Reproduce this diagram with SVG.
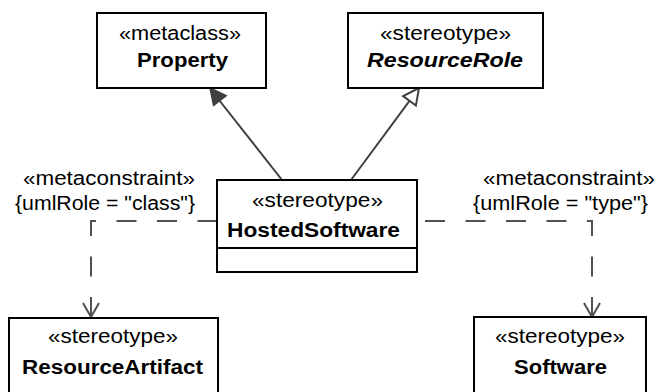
<svg xmlns="http://www.w3.org/2000/svg" width="656" height="392" viewBox="0 0 656 392">
<style>
.box{fill:#fff;stroke:#000;stroke-width:2}
.t{font-family:"Liberation Sans",Arial,sans-serif;font-size:20px;fill:#000}
.b{font-weight:bold}
.i{font-style:italic}
.gen{fill:none;stroke:#404040;stroke-width:2}
.dep{fill:none;stroke:#505050;stroke-width:2;stroke-dasharray:20 20.5}
.open{fill:none;stroke:#505050;stroke-width:2}
</style>
<rect width="656" height="392" fill="#fff"/>
<g id="connectors">
<line class="gen" x1="282" y1="180" x2="219" y2="100"/>
<polygon points="210,88 226.2,95.7 213.6,105.5" fill="#404040" stroke="#404040" stroke-width="1.5"/>
<line class="gen" x1="351" y1="180" x2="409.5" y2="100.9"/>
<polygon points="419,88 403.1,96.1 415.9,105.6" fill="#fff" stroke="#404040" stroke-width="2" stroke-linejoin="miter"/>
<path class="dep" d="M91,317 V221 H217"/>
<path class="open" d="M83,303 L91,317 L99,303"/>
<path class="dep" d="M592,317 V221 H417"/>
<path class="open" d="M584,303 L592,317 L600,303"/>
<text class="t" x="23" y="185" textLength="172" lengthAdjust="spacingAndGlyphs">«metaconstraint»</text>
<text class="t" x="15" y="210" textLength="180" lengthAdjust="spacingAndGlyphs">{umlRole = "class"}</text>
<text class="t" x="483" y="185" textLength="172" lengthAdjust="spacingAndGlyphs">«metaconstraint»</text>
<text class="t" x="473" y="210" textLength="175" lengthAdjust="spacingAndGlyphs">{umlRole = "type"}</text>
</g>
<g id="Property">
<rect class="box" x="97" y="13" width="169" height="75"/>
<text class="t" x="119" y="40" textLength="122" lengthAdjust="spacingAndGlyphs">«metaclass»</text>
<text class="t b" x="137" y="67" textLength="91" lengthAdjust="spacingAndGlyphs">Property</text>
</g>
<g id="ResourceRole">
<rect class="box" x="348" y="13" width="195" height="75"/>
<text class="t" x="380" y="40" textLength="131" lengthAdjust="spacingAndGlyphs">«stereotype»</text>
<text class="t b i" x="367" y="67" textLength="156" lengthAdjust="spacingAndGlyphs">ResourceRole</text>
</g>
<g id="HostedSoftware">
<rect class="box" x="217" y="180" width="200" height="92"/>
<line x1="217" y1="248" x2="417" y2="248" stroke="#000" stroke-width="2"/>
<text class="t" x="252" y="207" textLength="131" lengthAdjust="spacingAndGlyphs">«stereotype»</text>
<text class="t b" x="227" y="237" textLength="173" lengthAdjust="spacingAndGlyphs">HostedSoftware</text>
</g>
<g id="ResourceArtifact">
<rect class="box" x="9" y="318" width="209" height="90"/>
<text class="t" x="48" y="343" textLength="130" lengthAdjust="spacingAndGlyphs">«stereotype»</text>
<text class="t b" x="22" y="374" textLength="181" lengthAdjust="spacingAndGlyphs">ResourceArtifact</text>
</g>
<g id="Software">
<rect class="box" x="474" y="317" width="172" height="90"/>
<text class="t" x="495" y="343" textLength="130" lengthAdjust="spacingAndGlyphs">«stereotype»</text>
<text class="t b" x="514" y="374" textLength="93" lengthAdjust="spacingAndGlyphs">Software</text>
</g>
</svg>
